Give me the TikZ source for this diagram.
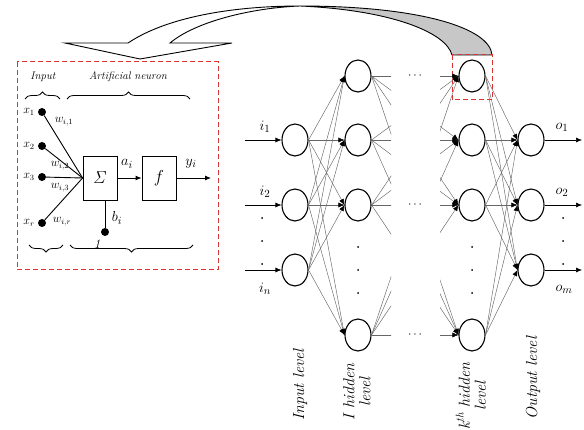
\documentclass[tikz,border=0pt]{standalone}
\usetikzlibrary{arrows.meta,shapes.geometric,decorations.pathreplacing,calc}
\definecolor{redd}{RGB}{220,50,50}
\begin{document}
\begin{tikzpicture}[x=1pt,y=-1pt,
  neuron/.style={ellipse,draw,line width=1.1pt,minimum width=26pt,minimum height=32pt,inner sep=0pt},
  conn/.style={draw=black!60,line width=0.45pt},
  tip/.style={-{Latex[length=6pt,width=5pt,color=black]}},
  inarrow/.style={draw,line width=0.6pt,-{Latex[length=6pt,width=5pt]}},
  lab/.style={font=\fontsize{15}{17}\selectfont,inner sep=0pt},
  slab/.style={font=\fontsize{11.5}{13}\selectfont,inner sep=0pt},
  rlab/.style={rotate=90,font=\fontsize{16}{16}\selectfont\itshape,align=center,inner sep=0pt},
  dotn/.style={circle,fill,inner sep=0pt,minimum size=2pt},
  bigdot/.style={circle,fill,inner sep=0pt,minimum size=8pt},
  opbox/.style={draw,line width=0.8pt,minimum width=34pt,minimum height=44pt,inner sep=0pt,font=\fontsize{17}{19}\selectfont},
  redbox/.style={draw=redd,line width=1pt,dash pattern=on 5pt off 3pt},
  brc/.style={decorate,line width=0.8pt,decoration={brace,amplitude=7pt}}
]
\useasboundingbox (0,0) rectangle (584,430);

% ---------- big twisted arrow ----------
\filldraw[fill=black!22,line width=0.9pt] (300,6) .. controls (420,6) and (490,28) .. (492,55) -- (452,55) .. controls (446,32) and (390,10) .. (300,6) -- cycle;
\filldraw[fill=white,line width=0.9pt] (128,43) .. controls (170,15) and (240,6) .. (300,6) .. controls (250,8) and (195,22) .. (170,43) -- (232,43) -- (140,59) -- (65,43) -- cycle;
\draw[redbox] (452,55) rectangle (492,100);

% ---------- network nodes ----------
\node[neuron] (I1) at (295,140) {};
\node[neuron] (I2) at (295,205) {};
\node[neuron] (I3) at (295,270) {};
\foreach \n/\y in {1/76,2/140,3/205,4/335} {
  \node[neuron] (H\n) at (358,\y) {};
  \node[neuron] (K\n) at (472,\y) {};
}
\foreach \n/\y in {1/140,2/205,3/270} \node[neuron] (O\n) at (531,\y) {};

% connections
\foreach \i in {1,2,3} \foreach \h in {1,...,4} \draw[conn,tip] (I\i.east) -- (H\h.west);
\begin{scope}
  \clip (340,0) rectangle (391,430);
  \foreach \a in {1,...,4} \foreach \b in {1,...,4} \draw[conn] (H\a.east) -- (K\b.west);
\end{scope}
\begin{scope}
  \clip (440,0) rectangle (500,430);
  \foreach \a in {1,...,4} \foreach \b in {1,...,4} \draw[conn,tip] (H\a.east) -- (K\b.west);
\end{scope}
\foreach \k in {1,...,4} \foreach \o in {1,2,3} \draw[conn,tip] (K\k.east) -- (O\o.west);

% inputs / outputs
\foreach \n/\y in {1/140,2/205,3/270} {
  \coordinate (ia\n) at (245,\y);
  \coordinate (oa\n) at (582,\y);
  \draw[inarrow] (ia\n) -- (I\n);
  \draw[inarrow] (O\n) -- (oa\n);
}
\node[lab] (li1) at (265,127) {$i_1$};
\node[lab] (li2) at (265,192) {$i_2$};
\node[lab] (lin) at (265,289) {$i_n$};
\node[lab] (lo1) at (562,127) {$o_1$};
\node[lab] (lo2) at (562,192) {$o_2$};
\node[lab] (lom) at (564,289) {$o_m$};

% dots
\foreach \y [count=\c] in {218,241,264} {
  \node[dotn] (di\c) at (262,\y) {};
  \node[dotn] (do\c) at (563,\y) {};
}
\foreach \y [count=\c] in {247,270,293} {
  \node[dotn] (dh\c) at (358,\y) {};
  \node[dotn] (dk\c) at (472,\y) {};
}
\foreach \y [count=\c] in {76,205,335} \node[font=\fontsize{12}{14}\selectfont] (hd\c) at (415,\y) {$\cdots$};

% level labels
\node[rlab] (l1) at (300,385) {Input level};
\node[rlab] (l2) at (357,392) {I hidden\\level};
\node[rlab] (l3) at (471,396) {k\textsuperscript{th} hidden\\level};
\node[rlab] (l4) at (533,378) {Output level};

% ---------- artificial neuron box ----------
\draw[redbox] (17,62) rectangle (218,270);
\node[font=\fontsize{11}{13}\selectfont\itshape] (tin) at (43,77) {Input};
\node[font=\fontsize{11}{13}\selectfont\itshape] (tan) at (128,77) {Artificial neuron};
\draw[brc] (25,99) -- (60,99);
\draw[brc] (67,99) -- (190,99);
\draw[brc,decoration={mirror}] (29,245) -- (63,245);
\draw[brc,decoration={mirror}] (70,245) -- (193,245);

\node[opbox] (S) at (100,178) {$\mathit{\Sigma}$};
\node[opbox] (F) at (159,178) {$f$};
\foreach \n/\y in {1/112,2/146,3/177,4/223} {
  \node[bigdot] (X\n) at (42,\y) {};
  \draw[line width=0.9pt] (X\n) -- (S.west);
}
\node[slab] at (29,112) {$x_1$};
\node[slab] at (29,146) {$x_2$};
\node[slab] at (29,177) {$x_3$};
\node[slab] at (29,223) {$x_r$};
\node[slab] at (64,122) {$w_{i,1}$};
\node[slab] at (60,166) {$w_{i,2}$};
\node[slab] at (60,188) {$w_{i,3}$};
\node[slab] at (62,222) {$w_{i,r}$};
\draw[inarrow,line width=0.9pt] (S.east) -- (F.west);
\node[lab] (la) at (127,164) {$a_i$};
\coordinate (yo) at (211,178);
\draw[inarrow,line width=0.9pt] (F.east) -- (yo);
\node[lab] (ly) at (191,164) {$y_i$};
\node[bigdot] (B) at (105,232) {};
\draw[line width=0.9pt] (B) -- (B |- S.south);
\node[lab] (lb) at (117,218) {$b_i$};
\node[font=\fontsize{13}{15}\selectfont\itshape] (one) at (97,244) {1};
\end{tikzpicture}
\end{document}
